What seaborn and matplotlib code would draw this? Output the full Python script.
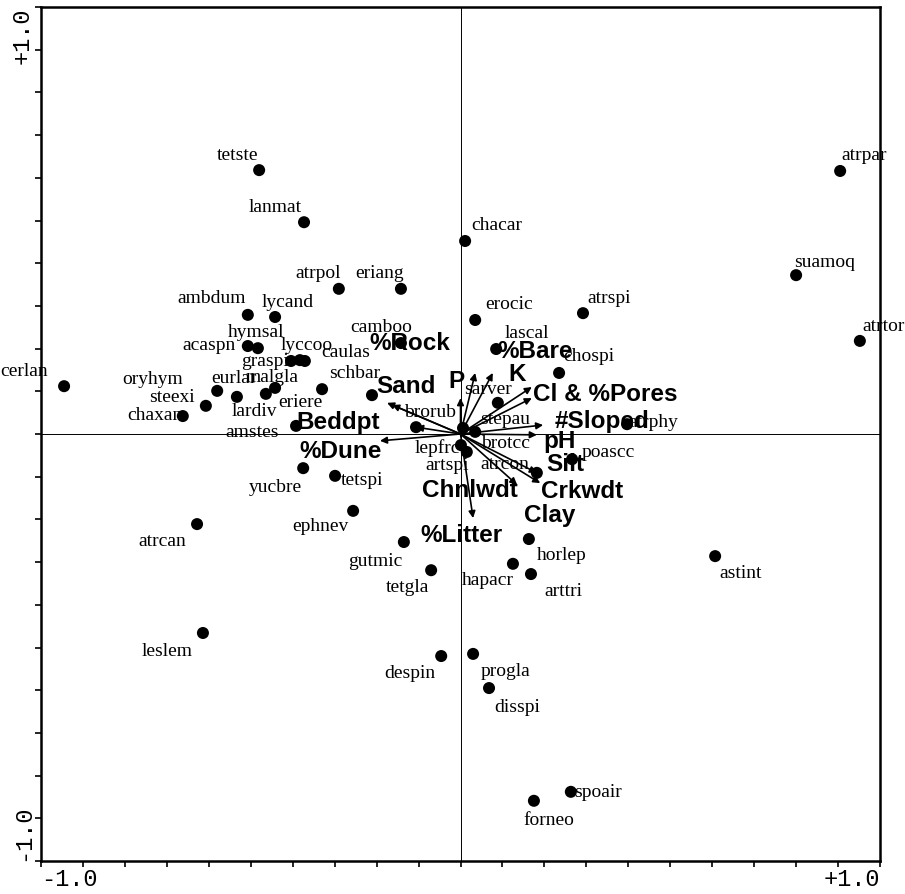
import matplotlib
matplotlib.use("Agg")
import matplotlib.pyplot as plt
from matplotlib.ticker import MultipleLocator, FixedLocator
import pandas as pd
import seaborn as sns

species = ["tetste", "lanmat", "chacar", "atrpol", "eriang", "ambdum", "lycand",
           "erocic", "atrspi", "suamoq", "atrpar", "atrtor", "camboo", "lascal",
           "chospi", "hymsal", "acaspn", "graspi", "lyccoo", "caulas", "malgla",
           "lardiv", "eurlar", "oryhym", "steexi", "chaxan", "eriere", "schbar",
           "cerlan", "amstes", "brorub", "lepfrc", "artspi", "brotcc", "stepau",
           "sarver", "atrcon", "poascc", "atrphy", "yucbre", "tetspi", "ephnev",
           "atrcan", "gutmic", "tetgla", "leslem", "despin", "progla", "disspi",
           "hapacr", "horlep", "arttri", "astint", "spoair", "forneo"]
sp_x = [-0.480, -0.373, 0.011, -0.290, -0.142, -0.507, -0.442,
        0.035, 0.292, 0.800, 0.905, 0.952, -0.142, 0.085,
        0.235, -0.483, -0.507, -0.404, -0.383, -0.371, -0.442,
        -0.464, -0.533, -0.580, -0.607, -0.662, -0.330, -0.211,
        -0.945, -0.392, -0.106, 0.001, 0.015, 0.035, 0.006,
        0.089, 0.182, 0.266, 0.397, -0.375, -0.299, -0.256,
        -0.628, -0.135, -0.070, -0.614, -0.046, 0.030, 0.068,
        0.125, 0.163, 0.168, 0.607, 0.263, 0.175]
sp_y = [0.618, 0.496, 0.452, 0.340, 0.340, 0.279, 0.274,
        0.267, 0.283, 0.372, 0.616, 0.218, 0.213, 0.199,
        0.143, 0.201, 0.206, 0.171, 0.173, 0.171, 0.108,
        0.094, 0.087, 0.101, 0.066, 0.042, 0.105, 0.091,
        0.112, 0.019, 0.016, -0.026, -0.042, 0.005, 0.014,
        0.073, -0.091, -0.059, 0.023, -0.080, -0.098, -0.180,
        -0.211, -0.253, -0.319, -0.466, -0.520, -0.515, -0.595,
        -0.304, -0.246, -0.328, -0.286, -0.838, -0.859]

env = ["P", "%Rock", "%Bare", "K", "Cl & %Pores", "#Sloped", "pH", "Silt",
       "Crkwdt", "Chnlwdt", "Clay", "%Litter", "Sand", "Beddpt", "%Dune"]
env_x = [0.000, 0.035, 0.077, 0.170, 0.170, 0.197, 0.182, 0.182,
         0.190, 0.135, -0.106, 0.030, -0.175, -0.163, -0.192]
env_y = [0.084, 0.143, 0.143, 0.110, 0.084, 0.021, -0.002, -0.091,
         -0.115, -0.119, 0.016, -0.197, 0.073, 0.068, -0.016]

# label offsets from the point, in pixels (right, up)
sp_off = {
    "tetste": (-22, 15), "lanmat": (-29, 15), "chacar": (32, 15), "atrpol": (-21, 15),
    "eriang": (-21, 15), "ambdum": (-36, 16), "lycand": (13, 15), "erocic": (34, 15),
    "atrspi": (26, 15), "suamoq": (29, 13), "atrpar": (24, 15), "atrtor": (24, 14),
    "camboo": (-20, 16), "lascal": (31, 16), "chospi": (30, 16), "hymsal": (-2, 16),
    "acaspn": (-39, 1), "graspi": (-26, -1), "lyccoo": (7, 15), "caulas": (41, 8),
    "malgla": (-3, 10), "lardiv": (-11, -18), "eurlar": (-3, 18), "oryhym": (-65, 11),
    "steexi": (-34, 8), "chaxan": (-28, 1), "eriere": (-22, -13), "schbar": (-17, 22),
    "cerlan": (-40, 15), "amstes": (-44, -7), "brorub": (14, 15), "lepfrc": (-24, -3),
    "artspi": (-20, -14), "brotcc": (30, -12), "stepau": (42, 9), "sarver": (-10, 13),
    "atrcon": (-32, 8), "poascc": (36, 7), "atrphy": (26, 2), "yucbre": (-28, -19),
    "tetspi": (27, -5), "ephnev": (-33, -16), "atrcan": (-35, -17), "gutmic": (-29, -19),
    "tetgla": (-24, -17), "leslem": (-36, -19), "despin": (-31, -17), "progla": (32, -18),
    "disspi": (28, -19), "hapacr": (-25, -17), "horlep": (33, -16), "arttri": (32, -17),
    "astint": (25, -17), "spoair": (27, -1), "forneo": (15, -20),
}
env_off = {
    "P": (-4, 17), "%Rock": (-65, 29), "%Bare": (42, 21), "K": (-15, 13),
    "Cl & %Pores": (73, 4), "#Sloped": (59, 4), "pH": (23, -7), "Silt": (28, 8),
    "Crkwdt": (42, -8), "Chnlwdt": (-47, -6), "Clay": (134, -88), "%Litter": (-12, -17),
    "Sand": (19, 16), "Beddpt": (-54, -18), "%Dune": (-39, -11),
}

sns.set_style("white")
plt.rcParams["font.family"] = ["Liberation Serif", "DejaVu Serif"]
plt.rcParams["text.color"] = "black"

df = pd.DataFrame({"species": species, "x": sp_x, "y": sp_y})

fig = plt.figure(figsize=(9.05, 8.94), dpi=100)
ax = fig.add_axes([41 / 905, 33 / 894, 839 / 905, 854 / 894])

ax.axhline(0, color="black", lw=0.7, zorder=1)
ax.axvline(0, color="black", lw=0.7, zorder=1)

for name, x, y in zip(env, env_x, env_y):
    ax.annotate("", xy=(x, y), xytext=(0, 0),
                arrowprops=dict(arrowstyle="-|>", color="black", lw=1.2,
                                mutation_scale=10, shrinkA=0, shrinkB=0),
                zorder=2)
    ax.annotate(name, xy=(x, y), xytext=env_off[name], textcoords="offset pixels",
                ha="center", va="center", fontsize=17.5, fontweight="bold",
                color="black", family=["Liberation Sans", "DejaVu Sans"], zorder=4)

sns.scatterplot(data=df, x="x", y="y", color="black", s=75, edgecolor="none",
                ax=ax, zorder=3, legend=False)

for name, x, y in zip(species, sp_x, sp_y):
    ax.annotate(name, xy=(x, y), xytext=sp_off[name], textcoords="offset pixels",
                ha="center", va="center", fontsize=14, color="black", zorder=4,
                annotation_clip=False)

ax.set_xlim(-1.0, 1.0)
ax.set_ylim(-1.0, 1.0)
ax.set_xlabel("")
ax.set_ylabel("")

ax.xaxis.set_major_locator(FixedLocator([-1.0, 1.0]))
ax.yaxis.set_major_locator(FixedLocator([-1.0, 1.0]))
ax.xaxis.set_minor_locator(MultipleLocator(0.1))
ax.yaxis.set_minor_locator(MultipleLocator(0.1))
ax.set_xticklabels(["-1.0", "+1.0"])
ax.set_yticklabels(["-1.0", "+1.0"])
ax.tick_params(which="both", direction="out", length=4, width=1.2, colors="black",
               left=True, bottom=True, top=False, right=False)
ax.tick_params(which="major", labelsize=17, pad=1)

mono = ["Liberation Mono", "DejaVu Sans Mono"]
xl = ax.get_xticklabels()
xl[0].set_ha("left")
xl[1].set_ha("right")
yl = ax.get_yticklabels()
for t in xl + yl:
    t.set_family(mono)
    t.set_color("black")
for t in yl:
    t.set_rotation(90)
yl[0].set_va("bottom")
yl[1].set_va("top")

for s in ax.spines.values():
    s.set_color("black")
    s.set_linewidth(1.8)

fig.savefig("out.png", dpi=100)
plt.close(fig)
